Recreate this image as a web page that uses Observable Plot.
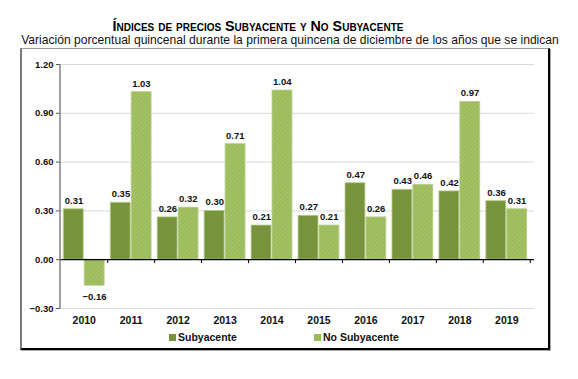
<!DOCTYPE html>
<html>
<head>
<meta charset="utf-8">
<script src="https://cdn.jsdelivr.net/npm/d3@7"></script>
<script src="https://cdn.jsdelivr.net/npm/@observablehq/plot@0.6"></script>
<style>
  body { margin: 0; background: #fff; font-family: "Liberation Sans", Arial, sans-serif; }
  #page { position: relative; width: 578px; height: 379px; overflow: hidden; }
  #title { position: absolute; left: 0; width: 516px; top: 18px; line-height: 16px; text-align: center; font-weight: bold; font-size: 14.3px; font-variant: small-caps; color: #000; }
  #subtitle { position: absolute; left: 0; width: 580px; top: 33px; line-height: 14px; text-align: center; font-size: 12.1px; color: #111; white-space: nowrap; }
  #frame { position: absolute; left: 20px; top: 48px; width: 526px; height: 299px; border-top: 1px solid #9a9a9a; border-left: 2px solid #7a7a7a; border-right: 2px solid #000; border-bottom: 2px solid #000; box-shadow: 1px 1px 0 #aaa; }
  #chart { position: absolute; left: 0; top: 1px; }
  .leg { position: absolute; top: 331px; font-weight: bold; font-size: 10.5px; color: #111; display: flex; align-items: center; }
  .sw { width: 7px; height: 7px; margin-right: 2px; display: inline-block; }
</style>
</head>
<body>
<div id="page">
  <div id="title">Índices de precios Subyacente y No Subyacente</div>
  <div id="subtitle">Variación porcentual quincenal durante la primera quincena de diciembre de los años que se indican</div>
  <div id="frame"><div id="chart"></div></div>
  <div class="leg" style="left:169px"><span class="sw" style="background:#77933C"></span>Subyacente</div>
  <div class="leg" style="left:314px"><span class="sw" style="background:#9BBB59"></span>No Subyacente</div>
</div>
<script>
const years = ["2010","2011","2012","2013","2014","2015","2016","2017","2018","2019"];
const subyacente = [0.31, 0.35, 0.26, 0.30, 0.21, 0.27, 0.47, 0.43, 0.42, 0.36];
const noSubyacente = [-0.16, 1.03, 0.32, 0.71, 1.04, 0.21, 0.26, 0.46, 0.97, 0.31];
const yTicks = [-0.30, 0.00, 0.30, 0.60, 0.90, 1.20];

const W = 526, H = 298, ML = 38, MR = 18, MT = 14, MB = 40;
const padIn = 0.13, padOut = 0.07;
const band = d3.scaleBand().domain(years).range([ML, W - MR]).paddingInner(padIn).paddingOuter(padOut);
const bw = band.bandwidth(), step = band.step();
const half = bw / 2;

const subData = years.map((y, i) => ({year: y, value: subyacente[i]}));
const noData = years.map((y, i) => ({year: y, value: noSubyacente[i]}));
const fmt = d3.format(".2f");
const labelStyle = {fontWeight: "bold", fontSize: 9.5, fill: "#111"};
const pos = arr => arr.filter(d => d.value >= 0);
const neg = arr => arr.filter(d => d.value < 0);

const plot = Plot.plot({
  width: W, height: H,
  marginLeft: ML, marginRight: MR, marginTop: MT, marginBottom: MB,
  style: {fontFamily: "Liberation Sans, Arial, sans-serif", background: "transparent"},
  x: {type: "band", domain: years, paddingInner: padIn, paddingOuter: padOut, round: false, axis: null},
  y: {domain: [-0.30, 1.20], ticks: yTicks, axis: null},
  marks: [
    Plot.ruleY(yTicks.filter(d => d !== 0), {stroke: "#d9d9d9", strokeWidth: 1, insetRight: -4}),
    Plot.barY(subData, {x: "year", y: "value", fill: "#77933C", stroke: "#b9cd8e", strokeWidth: 0.8, insetRight: half + 0.5}),
    Plot.barY(noData, {x: "year", y: "value", fill: "url(#hatch)", stroke: "#b9cd8e", strokeWidth: 0.8, insetLeft: half + 0.5}),
    Plot.ruleY([0], {stroke: "#000", strokeWidth: 1.2, insetRight: -4}),
    Plot.ruleX(years.slice(1), {x: d => d, y1: 0, y2: -0.024, dx: -step / 2, stroke: "#000", strokeWidth: 1}),
    Plot.ruleX([years[years.length - 1]], {x: d => d, y1: 0, y2: -0.024, dx: step / 2, stroke: "#000", strokeWidth: 1}),
    Plot.axisY({ticks: yTicks, tickFormat: fmt, tickSize: 4, tickPadding: 3, stroke: "#555", fontWeight: "bold", fontSize: 9.5, fill: "#111", label: null}),
    Plot.axisX({tickSize: 0, tickPadding: 8, fontWeight: "bold", fontSize: 10.5, fill: "#111", label: null}),
    Plot.text(pos(subData), {x: "year", y: "value", text: d => fmt(d.value), dx: -bw / 4, dy: -8.5, ...labelStyle}),
    Plot.text(neg(subData), {x: "year", y: "value", text: d => fmt(d.value), dx: -bw / 4, dy: 11, ...labelStyle}),
    Plot.text(pos(noData), {x: "year", y: "value", text: d => fmt(d.value), dx: bw / 4, dy: -8.5, ...labelStyle}),
    Plot.text(neg(noData), {x: "year", y: "value", text: d => fmt(d.value), dx: bw / 4, dy: 11, ...labelStyle})
  ]
});

const svg = d3.select(plot);
const defs = svg.insert("defs", ":first-child");
const pat = defs.append("pattern").attr("id", "hatch").attr("patternUnits", "userSpaceOnUse")
  .attr("width", 3).attr("height", 3).attr("patternTransform", "rotate(45)");
pat.append("rect").attr("width", 3).attr("height", 3).attr("fill", "#9BBB59");
pat.append("line").attr("x1", 0).attr("y1", 0).attr("x2", 0).attr("y2", 3).attr("stroke", "#b2cc7c").attr("stroke-width", 1.2);

// y axis line
const yS = plot.scale("y");
svg.append("line").attr("x1", ML).attr("x2", ML).attr("y1", yS.apply(1.20)).attr("y2", yS.apply(-0.30))
  .attr("stroke", "#808080").attr("stroke-width", 1.5);

document.getElementById("chart").appendChild(plot);
</script>
</body>
</html>
